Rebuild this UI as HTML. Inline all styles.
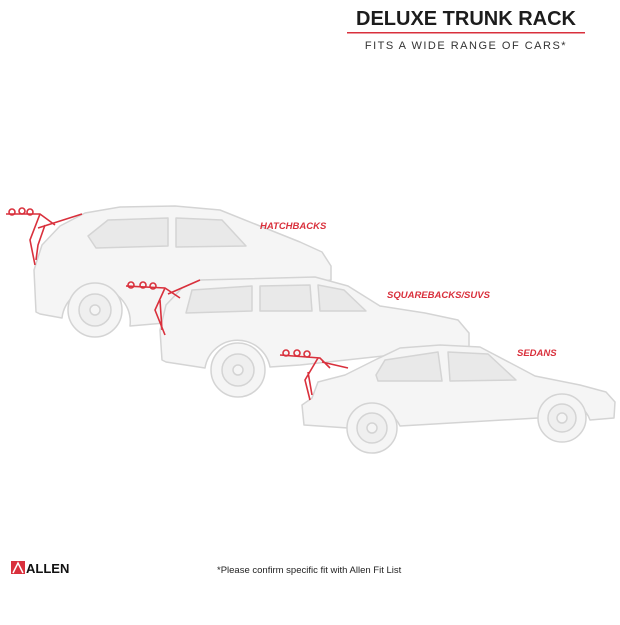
<!DOCTYPE html>
<html><head><style>
body{margin:0;background:#fff;width:620px;height:620px;overflow:hidden;font-family:"Liberation Sans",sans-serif}
</style></head><body>
<svg width="620" height="620" viewBox="0 0 620 620" xmlns="http://www.w3.org/2000/svg">
<g fill="#f5f5f5" stroke="#d4d4d4" stroke-width="1.5" stroke-linejoin="round">
<!-- car 1 hatchback -->
<path d="M36 312 L34 270 L42 245 L60 226 L85 213 L120 207 L175 206 L220 210 L255 224 L300 242 L322 252 L331 266 L331 280 L300 285 L200 320 L130 326 A33 33 0 0 0 62 318 L40 314 Z"/>
<path d="M88 236 L108 220 L168 218 L168 246 L96 248 Z" fill="#e9e9e9"/>
<path d="M176 218 L222 220 L246 246 L176 247 Z" fill="#e9e9e9"/>
<circle cx="95" cy="310" r="27"/><circle cx="95" cy="310" r="16" fill="#efefef"/><circle cx="95" cy="310" r="5" fill="#f5f5f5"/>
<!-- car 2 wagon -->
<path d="M162 360 L160 330 L166 305 L182 288 L200 280 L315 277 L348 286 L380 306 L425 313 L458 320 L469 333 L469 347 L420 352 L300 365 L270 367 A33 33 0 0 0 205 368 L166 362 Z"/>
<path d="M192 290 L252 286 L252 311 L186 313 Z" fill="#e9e9e9"/>
<path d="M260 286 L310 285 L312 311 L260 311 Z" fill="#e9e9e9"/>
<path d="M318 285 L344 290 L366 311 L320 311 Z" fill="#e9e9e9"/>
<circle cx="238" cy="370" r="27"/><circle cx="238" cy="370" r="16" fill="#efefef"/><circle cx="238" cy="370" r="5" fill="#f5f5f5"/>
<!-- car 3 sedan -->
<path d="M304 425 L302 405 L312 398 L318 382 L345 375 L375 360 L400 348 L440 345 L480 347 L520 368 L535 376 L580 385 L606 392 L615 402 L614 418 L590 420 A28 28 0 0 0 538 418 L400 426 A28 28 0 0 0 348 428 Z"/>
<path d="M376 375 L385 360 L438 352 L442 381 L378 381 Z" fill="#e9e9e9"/>
<path d="M448 352 L488 354 L516 380 L450 381 Z" fill="#e9e9e9"/>
<circle cx="372" cy="428" r="25"/><circle cx="372" cy="428" r="15" fill="#efefef"/><circle cx="372" cy="428" r="5" fill="#f5f5f5"/>
<circle cx="562" cy="418" r="24"/><circle cx="562" cy="418" r="14" fill="#efefef"/><circle cx="562" cy="418" r="5" fill="#f5f5f5"/>
</g>
<!-- racks -->
<g fill="none" stroke="#d9303c" stroke-width="1.6">
<path d="M6 214 L40 214 L55 225 M40 214 L30 240 L35 265 M38 228 L82 214 M45 225 L38 245 L36 260"/>
<circle cx="12" cy="212" r="3"/><circle cx="22" cy="211" r="3"/><circle cx="30" cy="212" r="3"/>
<path d="M126 286 L165 288 L180 298 M165 288 L155 310 L165 335 M168 294 L200 280 M160 300 L162 330"/>
<circle cx="131" cy="285" r="3"/><circle cx="143" cy="285" r="3"/><circle cx="153" cy="286" r="3"/>
<path d="M280 355 L320 358 L330 368 M318 358 L305 380 L310 400 M322 362 L348 368 M308 372 L312 395"/>
<circle cx="286" cy="353" r="3"/><circle cx="297" cy="353" r="3"/><circle cx="307" cy="354" r="3"/>
</g>
<g font-family="Liberation Sans,sans-serif" font-style="italic" font-weight="bold" font-size="9.5" fill="#d9303c">
<text x="260" y="229">HATCHBACKS</text>
<text x="387" y="298">SQUAREBACKS/SUVS</text>
<text x="517" y="356">SEDANS</text>
</g>
<text x="466" y="25" text-anchor="middle" font-weight="bold" font-size="20" fill="#1c1c1c" font-family="Liberation Sans,sans-serif">DELUXE TRUNK RACK</text>
<rect x="347" y="32" width="238" height="1.5" fill="#d9303c"/>
<text x="466" y="49" text-anchor="middle" font-size="11" letter-spacing="1.5" fill="#333" font-family="Liberation Sans,sans-serif">FITS A WIDE RANGE OF CARS*</text>
<rect x="11" y="561" width="14" height="13" fill="#d9303c"/>
<path d="M13 573 L18 563 L23 573" fill="none" stroke="#fff" stroke-width="1.5"/>
<text x="26" y="573" font-weight="bold" font-size="13" fill="#111" font-family="Liberation Sans,sans-serif">ALLEN</text>
<text x="217" y="573" font-size="9.5" fill="#222" font-family="Liberation Sans,sans-serif">*Please confirm specific fit with Allen Fit List</text>
</svg>
</body></html>
